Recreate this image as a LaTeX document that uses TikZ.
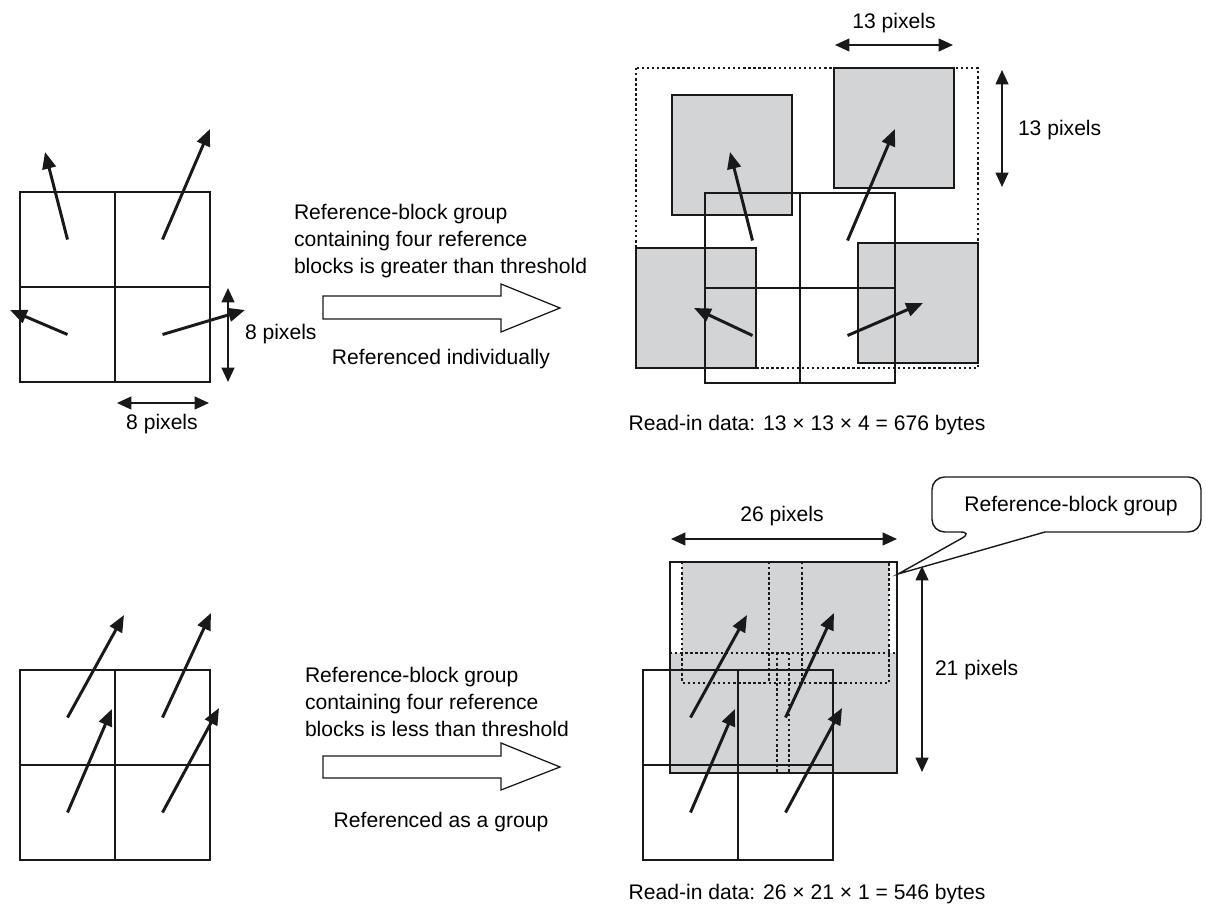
\documentclass[tikz,border=0pt]{standalone}
\usepackage{fontspec}
\setmainfont{Liberation Sans}
\usetikzlibrary{arrows.meta,calc}
\definecolor{blockgray}{RGB}{211,212,214}
\newcommand\quadgrid[3]{%
  \node[cell] (#1a) at (#2,#3) {};
  \node[cell] (#1b) at (#2+95,#3) {};
  \node[cell] (#1c) at (#2,#3+95) {};
  \node[cell] (#1d) at (#2+95,#3+95) {};}
\begin{document}
\begin{tikzpicture}[x=0.025cm,y=-0.025cm,
  every node/.style={font=\fontsize{15}{19.2}\selectfont, inner sep=0pt, outer sep=0pt},
  cell/.style={draw=black!90, line width=2pt, minimum width=2.375cm, minimum height=2.375cm, anchor=north west},
  mv/.style={line width=2.1pt, draw=black!90, -{Triangle[length=4.2mm,width=3.4mm]}},
  dim/.style={line width=1.4pt, draw=black!90, {Triangle[length=3.6mm,width=3.2mm]}-{Triangle[length=3.6mm,width=3.2mm]}},
  refsq/.style={fill=blockgray, draw=black!90, line width=2pt},
  dots/.style={line width=1.8pt, draw=black!90, dash pattern=on 1.7pt off 1.9pt},
  bigarrow/.style={draw=black!90, line width=0.9pt, fill=white},
  callout/.style={draw=black!90, line width=1pt, fill=white}]
\useasboundingbox (0,0) rectangle (1206,911);

% ---------------- top left ----------------
\quadgrid{p}{20}{192}
\coordinate (pae) at (45,152);
\coordinate (pbe) at (210,129);
\coordinate (pce) at (10,310);
\coordinate (pde) at (245,310);
\draw[mv] (pa.center) -- (pae);
\draw[mv] (pb.center) -- (pbe);
\draw[mv] (pc.center) -- (pce);
\draw[mv] (pd.center) -- (pde);
\coordinate (dv1a) at (228,288);
\coordinate (dv1b) at (228,382);
\draw[dim] (dv1a) -- (dv1b);
\node[anchor=base west] (l8v) at (245,340) {8 pixels};
\coordinate (dh1a) at (117,403);
\coordinate (dh1b) at (209,403);
\draw[dim] (dh1a) -- (dh1b);
\node[anchor=base] (l8h) at (162,430) {8 pixels};

% ---------------- top middle ----------------
\node[anchor=north west, align=left] (cond1) at (294,204.5)
  {Reference-block group\\containing four reference\\blocks is greater than threshold};
\draw[bigarrow] (323,296) -- (501,296) -- (501,284) -- (560,308) -- (501,332) -- (501,319) -- (323,319) -- cycle;
\node[anchor=base] (ind) at (441,365) {Referenced individually};

% ---------------- top right ----------------
\draw[dots] (636,68) rectangle (978,368);
\draw[refsq] (672,95) rectangle (792,215);
\draw[refsq] (834,68) rectangle (954,188);
\draw[refsq] (636,248) rectangle (756,368);
\draw[refsq] (858,243) rectangle (978,363);
\quadgrid{q}{705}{193}
\coordinate (qae) at (730,152);
\coordinate (qbe) at (895,129);
\coordinate (qce) at (694,308);
\coordinate (qde) at (923,303);
\draw[mv] (qa.center) -- (qae);
\draw[mv] (qb.center) -- (qbe);
\draw[mv] (qc.center) -- (qce);
\draw[mv] (qd.center) -- (qde);
\coordinate (dh2a) at (835,45);
\coordinate (dh2b) at (953,45);
\draw[dim] (dh2a) -- (dh2b);
\node[anchor=base] (l13h) at (894,29) {13 pixels};
\coordinate (dv2a) at (1002,70);
\coordinate (dv2b) at (1002,187);
\draw[dim] (dv2a) -- (dv2b);
\node[anchor=base west] (l13v) at (1018,136) {13 pixels};
\node[anchor=base] (read1) at (807,431) {Read-in data: 13 × 13 × 4 = 676 bytes};

% ---------------- bottom left ----------------
\quadgrid{r}{20}{670}
\coordinate (rae) at (124,615);
\coordinate (rbe) at (211,613);
\coordinate (rce) at (112,709);
\coordinate (rde) at (219,708);
\draw[mv] (ra.center) -- (rae);
\draw[mv] (rb.center) -- (rbe);
\draw[mv] (rc.center) -- (rce);
\draw[mv] (rd.center) -- (rde);

% ---------------- bottom middle ----------------
\node[anchor=north west, align=left] (cond2) at (305,667.5)
  {Reference-block group\\containing four reference\\blocks is less than threshold};
\draw[bigarrow] (323,756) -- (501,756) -- (501,743) -- (560,767) -- (501,790) -- (501,778) -- (323,778) -- cycle;
\node[anchor=base] (grp) at (441,827) {Referenced as a group};

% ---------------- bottom right ----------------
\fill[blockgray] (682,562) rectangle (889,683);
\fill[blockgray] (670,653) rectangle (897,773);
\draw[dots] (682,562) -- (682,683) -- (889,683) -- (889,562);
\draw[dots] (769,562) -- (769,683);
\draw[dots] (802,562) -- (802,683);
\draw[dots] (670,653) -- (897,653);
\draw[dots] (777,653) -- (777,773);
\draw[dots] (789,653) -- (789,773);
\node[draw=black!90, line width=2pt, minimum width=5.675cm, minimum height=5.275cm, anchor=north west] (group) at (670,562) {};
\quadgrid{s}{643}{670}
\coordinate (sae) at (747,615);
\coordinate (sbe) at (834,613);
\coordinate (sce) at (735,709);
\coordinate (sde) at (842,708);
\draw[mv] (sa.center) -- (sae);
\draw[mv] (sb.center) -- (sbe);
\draw[mv] (sc.center) -- (sce);
\draw[mv] (sd.center) -- (sde);
\coordinate (dh3a) at (671,539);
\coordinate (dh3b) at (897,539);
\draw[dim] (dh3a) -- (dh3b);
\node[anchor=base] (l26) at (782,522) {26 pixels};
\coordinate (dv3a) at (922,566);
\coordinate (dv3b) at (922,772);
\draw[dim] (dv3a) -- (dv3b);
\node[anchor=base west] (l21) at (935,676) {21 pixels};
\coordinate (tip) at ($(group.north east)+(1,12)$);
\draw[callout] (973,532) -- (tip) -- (1045,532) [rounded corners=9pt] -- (1201,532) -- (1201,477) -- (932,477) -- (932,532) -- cycle;
\node[anchor=base] (ctext) at (1071,512) {Reference-block group};
\node[anchor=base] (read2) at (807,899) {Read-in data: 26 × 21 × 1 = 546 bytes};
\end{tikzpicture}
\end{document}
